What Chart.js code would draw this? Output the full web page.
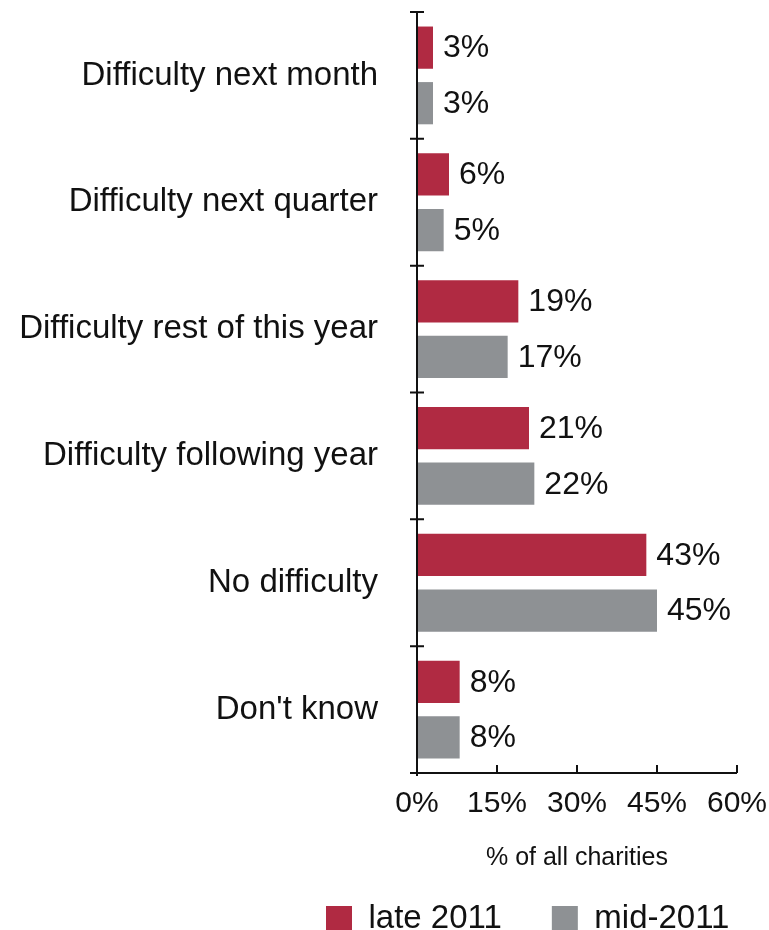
<!DOCTYPE html>
<html>
<head>
<meta charset="utf-8">
<script src="https://cdn.jsdelivr.net/npm/chart.js@4"></script>
<style>
  html, body { margin: 0; padding: 0; background: #fff; }
  #wrap { width: 769px; height: 930px; }
</style>
</head>
<body>
<div id="wrap"><canvas id="chart"></canvas></div>
<script>
// data
const categories = [
    'Difficulty next month',
    'Difficulty next quarter',
    'Difficulty rest of this year',
    'Difficulty following year',
    'No difficulty',
    "Don't know"
];
const late2011 = [3, 6, 19, 21, 43, 8];
const mid2011 = [3, 5, 17, 22, 45, 8];
const seriesNames = ['late 2011', 'mid-2011'];
const xTicks = [0, 15, 30, 45, 60];
const axisTitle = '% of all charities';

const FONT = "'Liberation Sans', Arial, Helvetica, sans-serif";
const RED = '#b02a42';
const GREY = '#8e9194';
const LEGEND_SIZE = 33;

// value labels at the end of each bar
const valueLabels = {
    id: 'valueLabels',
    afterDatasetsDraw(chart) {
        const ctx = chart.ctx;
        ctx.save();
        ctx.font = `32px ${FONT}`;
        ctx.fillStyle = '#111';
        ctx.textAlign = 'left';
        ctx.textBaseline = 'middle';
        chart.data.datasets.forEach((ds, di) => {
            chart.getDatasetMeta(di).data.forEach((bar, i) => {
                ctx.fillText(ds.data[i] + '%', bar.x + 10, bar.y + 1);
            });
        });
        ctx.restore();
    }
};

// axis lines with the crossing / inward tick marks
const axisMarks = {
    id: 'axisMarks',
    afterDraw(chart) {
        const { ctx, chartArea } = chart;
        const x = chart.scales.x, y = chart.scales.y;
        const x0 = x.getPixelForValue(0);
        ctx.save();
        ctx.strokeStyle = '#111';
        ctx.lineWidth = 2;
        ctx.beginPath();
        ctx.moveTo(x0, chartArea.top);
        ctx.lineTo(x0, chartArea.bottom + 3);
        ctx.moveTo(x0 - 6, chartArea.bottom);
        ctx.lineTo(chartArea.right, chartArea.bottom);
        for (let i = 0; i <= categories.length; i++) {
            const py = y.getPixelForValue(i - 0.5);
            ctx.moveTo(x0 - 7, py);
            ctx.lineTo(x0 + 7, py);
        }
        x.ticks.forEach(t => {
            if (t.value === 0) return;
            const px = x.getPixelForValue(t.value);
            ctx.moveTo(px, chartArea.bottom);
            ctx.lineTo(px, chartArea.bottom - 8);
        });
        ctx.stroke();
        ctx.restore();
    }
};

// put the legend where the reference has it (legend clips to its own box)
const legendPlace = {
    id: 'legendPlace',
    afterLayout(chart) {
        const lg = chart.legend;
        const pad = lg.options.labels.padding;
        const dx = 326 - (lg.left + pad);
        lg.left += dx; lg.right += dx;
        lg.top = 919 - LEGEND_SIZE / 2 - pad;
        lg.bottom = lg.top + 200;
    }
};

new Chart(document.getElementById('chart'), {
    type: 'bar',
    data: {
        labels: categories,
        datasets: [
            { label: seriesNames[0], data: late2011, backgroundColor: RED, categoryPercentage: 0.876, barPercentage: 0.76 },
            { label: seriesNames[1], data: mid2011, backgroundColor: GREY, categoryPercentage: 0.876, barPercentage: 0.76 }
        ]
    },
    options: {
        indexAxis: 'y',
        responsive: true, maintainAspectRatio: false,
        animation: false,
        layout: { padding: { top: 12, right: 32, bottom: 0, left: 0 } },
        scales: {
            x: {
                min: 0, max: 60,
                afterBuildTicks: s => { s.ticks = xTicks.map(v => ({ value: v })); },
                afterFit: s => { s.height = 102; },
                grid: { display: false, drawTicks: true, tickLength: 13 },
                border: { display: false },
                ticks: { color: '#111', padding: 0, font: { family: FONT, size: 30 }, callback: v => v + '%', maxRotation: 0 },
                title: { display: true, text: axisTitle, color: '#111', font: { family: FONT, size: 25 }, padding: { top: 0, bottom: 2 } }
            },
            y: {
                afterFit: s => { s.width = 417; },
                grid: { display: false, drawTicks: true, tickLength: 39 },
                border: { display: false },
                ticks: { color: '#111', padding: 0, font: { family: FONT, size: 33, lineHeight: 0.7 } }
            }
        },
        plugins: {
            legend: {
                position: 'bottom', align: 'start', maxHeight: 55,
                labels: { color: '#111', font: { family: FONT, size: LEGEND_SIZE }, boxWidth: 26, boxHeight: 26, padding: 50 }
            },
            tooltip: { enabled: false }
        }
    },
    plugins: [valueLabels, axisMarks, legendPlace]
});
</script>
</body>
</html>
